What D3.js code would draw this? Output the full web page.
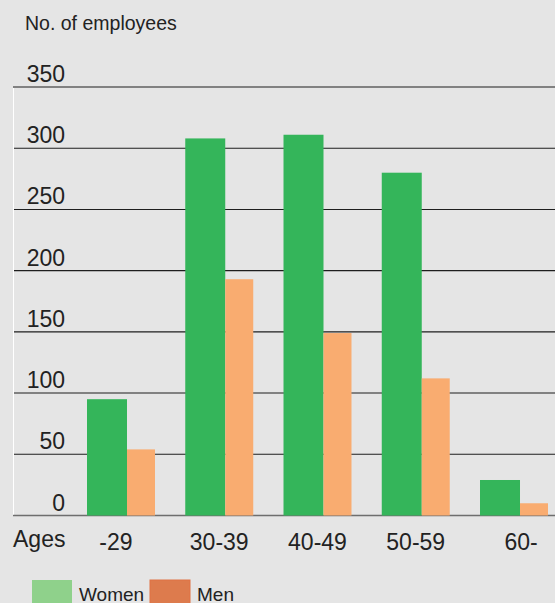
<!DOCTYPE html>
<html>
<head>
<meta charset="utf-8">
<script src="https://cdn.jsdelivr.net/npm/d3@7"></script>
<style>
  html, body { margin: 0; padding: 0; background: #e5e5e5; }
  svg { display: block; }
  text { font-family: "Liberation Sans", Arial, Helvetica, sans-serif; fill: #222; }
</style>
</head>
<body>
<script>
// Employees by age group and gender
const ageGroups = ["-29", "30-39", "40-49", "50-59", "60-"];
const women = [95, 308, 311, 280, 29];
const men = [54, 193, 149, 112, 10];
const yTicks = [0, 50, 100, 150, 200, 250, 300, 350];
const seriesNames = ["Women", "Men"];

const width = 555, height = 603;

const svg = d3.select("body").append("svg")
  .attr("width", width)
  .attr("height", height);

svg.append("rect").attr("width", width).attr("height", height).attr("fill", "#e5e5e5");

const y = d3.scaleLinear().domain([0, 350]).range([515.5, 87]);

const x = d3.scaleBand()
  .domain(ageGroups)
  .range([87, 548])
  .paddingInner(0.308)
  .paddingOuter(0);

const plotLeft = 13;

// Title
svg.append("text")
  .attr("x", 25).attr("y", 30)
  .attr("font-size", 19.5)
  .text("No. of employees");

// Horizontal grid lines
svg.append("g").selectAll("line")
  .data(yTicks)
  .join("line")
  .attr("x1", plotLeft).attr("x2", width)
  .attr("y1", d => y(d)).attr("y2", d => y(d))
  .attr("stroke", d => d === 0 ? "#6e6e6e" : "#1e1e1e")
  .attr("stroke-width", d => d === 0 ? 1.6 : 1.1);

// Left white rule
svg.append("line")
  .attr("x1", plotLeft + 0.5).attr("x2", plotLeft + 0.5)
  .attr("y1", y(350) + 1).attr("y2", y(0) - 1)
  .attr("stroke", "#ffffff").attr("stroke-width", 1);

// Y tick labels
svg.append("g").selectAll("text")
  .data(yTicks)
  .join("text")
  .attr("x", 65)
  .attr("y", d => y(d) - 5)
  .attr("text-anchor", "end")
  .attr("font-size", 23)
  .text(d => d);

// Bars
const womenFrac = 40 / 68;
const groups = svg.append("g").selectAll("g")
  .data(ageGroups.map((g, i) => ({ g, w: women[i], m: men[i] })))
  .join("g");

groups.append("rect")
  .attr("x", d => x(d.g))
  .attr("width", x.bandwidth() * womenFrac)
  .attr("y", d => y(d.w))
  .attr("height", d => y(0) - y(d.w))
  .attr("fill", "#34b55a");

groups.append("rect")
  .attr("x", d => x(d.g) + x.bandwidth() * womenFrac)
  .attr("width", x.bandwidth() * (1 - womenFrac))
  .attr("y", d => y(d.m))
  .attr("height", d => y(0) - y(d.m))
  .attr("fill", "#f9ac70");

// X axis labels
svg.append("text")
  .attr("x", 13).attr("y", 547)
  .attr("font-size", 23)
  .text("Ages");

svg.append("g").selectAll("text")
  .data(ageGroups)
  .join("text")
  .attr("x", d => x(d) + x.bandwidth() / 2 + (d === "-29" ? -5 : d === "60-" ? 7 : 0))
  .attr("y", 550)
  .attr("text-anchor", "middle")
  .attr("font-size", 23)
  .text(d => d);

// Legend
const legendColors = ["#8fd18b", "#dd7b4d"];
const legendX = [32, 150];
const legend = svg.append("g").selectAll("g")
  .data(seriesNames)
  .join("g")
  .attr("transform", (d, i) => `translate(${legendX[i]},580)`);

legend.append("rect")
  .attr("width", 40).attr("height", 30)
  .attr("fill", (d, i) => legendColors[i])
  .attr("stroke", (d, i) => i === 1 ? "#e07245" : "none")
  .attr("stroke-width", 1);

legend.append("text")
  .attr("x", 47).attr("y", 21)
  .attr("font-size", 19)
  .text(d => d);
</script>
</body>
</html>
